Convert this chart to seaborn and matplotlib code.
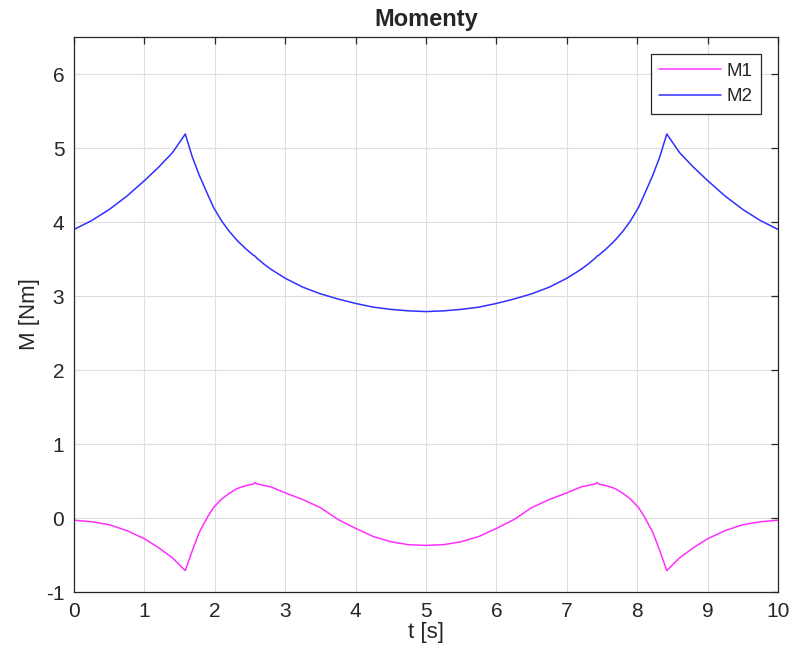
import numpy as np
import pandas as pd
import matplotlib
matplotlib.use("Agg")
import matplotlib.pyplot as plt
import seaborn as sns

# time samples [s]
t = [0.0, 0.25, 0.5, 0.75, 1.0, 1.2, 1.4, 1.58, 1.68, 1.78, 1.9, 1.98, 2.1, 2.2, 2.3,
     2.35, 2.45, 2.55, 2.57, 2.6, 2.7, 2.8, 2.9, 3.0, 3.25, 3.5, 3.75, 4.0, 4.25, 4.5,
     4.75, 5.0,
     5.25, 5.5, 5.75, 6.0, 6.25, 6.5, 6.75, 7.0, 7.1, 7.2, 7.3, 7.4, 7.43, 7.45, 7.55,
     7.65, 7.7, 7.8, 7.9, 8.02, 8.1, 8.22, 8.32, 8.42, 8.6, 8.8, 9.0, 9.25, 9.5, 9.75,
     10.0]

# moments [Nm]
m1 = [-0.03, -0.05, -0.09, -0.17, -0.28, -0.40, -0.54, -0.71, -0.44, -0.19, 0.02, 0.14,
      0.26, 0.33, 0.39, 0.41, 0.44, 0.46, 0.48, 0.46, 0.44, 0.42, 0.38, 0.34, 0.25, 0.14,
      -0.02, -0.14, -0.25, -0.32, -0.36, -0.37,
      -0.36, -0.32, -0.25, -0.14, -0.02, 0.14, 0.25, 0.34, 0.38, 0.42, 0.44, 0.46, 0.48,
      0.46, 0.44, 0.41, 0.39, 0.33, 0.26, 0.14, 0.02, -0.19, -0.44, -0.71, -0.54, -0.40,
      -0.28, -0.17, -0.09, -0.05, -0.03]

m2 = [3.90, 4.02, 4.17, 4.35, 4.56, 4.74, 4.94, 5.19, 4.88, 4.63, 4.37, 4.20, 4.01, 3.88,
      3.77, 3.72, 3.63, 3.55, 3.54, 3.51, 3.43, 3.36, 3.30, 3.24, 3.12, 3.03, 2.96, 2.90,
      2.85, 2.82, 2.80, 2.79,
      2.80, 2.82, 2.85, 2.90, 2.96, 3.03, 3.12, 3.24, 3.30, 3.36, 3.43, 3.51, 3.54, 3.55,
      3.63, 3.72, 3.77, 3.88, 4.01, 4.20, 4.37, 4.63, 4.88, 5.19, 4.94, 4.74, 4.56, 4.35,
      4.17, 4.02, 3.90]

df = pd.concat([
    pd.DataFrame({"t": t, "M": m1, "serie": "M1"}),
    pd.DataFrame({"t": t, "M": m2, "serie": "M2"}),
], ignore_index=True)

sns.set_style("white")
plt.rcParams['font.family'] = ['Liberation Sans', 'DejaVu Sans']
plt.rcParams['axes.unicode_minus'] = False

fig = plt.figure(figsize=(7.91, 6.62), dpi=100)
ax = fig.add_axes([0.0936, 0.1057, 0.89, 0.8383])

sns.lineplot(data=df, x="t", y="M", hue="serie", sort=False,
             palette={"M1": "#ff30ff", "M2": "#3030ff"}, linewidth=1.1, ax=ax)

ax.set_xlim(0, 10)
ax.set_ylim(-1, 6.5)
ax.set_xticks(range(0, 11))
ax.set_yticks(range(-1, 7))
ax.grid(True, color="#dedede", linewidth=0.8)
ax.set_axisbelow(True)
for sp in ax.spines.values():
    sp.set_color("#262626")
    sp.set_linewidth(0.9)
ax.tick_params(direction="in", top=True, right=True, length=5, width=0.9,
               colors="#262626", labelsize=15, pad=7)
ax.set_xlabel("t [s]", fontsize=16, color="#262626", labelpad=1)
ax.set_ylabel("M [Nm]", fontsize=16, color="#262626", labelpad=4)
ax.set_title("Momenty", fontsize=17, fontweight="bold", pad=8)

leg = ax.legend(loc="upper right", bbox_to_anchor=(0.9758, 0.9694), borderaxespad=0,
                fontsize=13.5, frameon=True, fancybox=False, framealpha=1,
                edgecolor="#262626", handlelength=3.3, handletextpad=0.3,
                borderpad=0.45, labelspacing=0.45)
leg.get_frame().set_linewidth(0.9)

fig.savefig("out.png", dpi=100)
